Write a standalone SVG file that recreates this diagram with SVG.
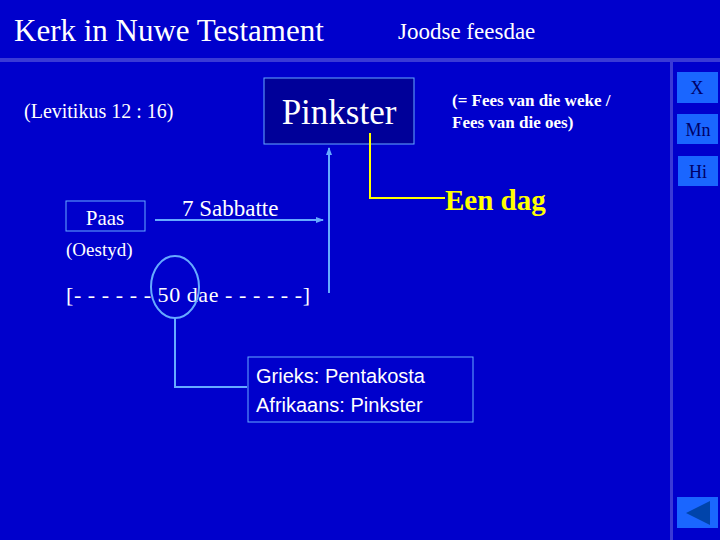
<svg xmlns="http://www.w3.org/2000/svg" width="720" height="540" viewBox="0 0 720 540">
<defs>
<style>
.s{font-family:"Liberation Serif",serif;fill:#fff}
.a{font-family:"Liberation Sans",sans-serif;fill:#fff}
.btn{fill:#1a66ff}
.lb{stroke:#66aaff;stroke-width:2;fill:none}
</style>
<marker id="ar" markerWidth="8" markerHeight="8" refX="7" refY="4" orient="auto" markerUnits="userSpaceOnUse"><path d="M0,1 L8,4 L0,7 Z" fill="#66aaff"/></marker>
</defs>
<rect width="720" height="540" fill="#0000cc"/>
<rect x="0" y="58" width="720" height="4" fill="#3a3ad6"/>
<rect x="670" y="62" width="3" height="478" fill="#3a3ad6"/>
<text class="s" x="14" y="41" font-size="31">Kerk in Nuwe Testament</text>
<text class="s" x="398" y="39" font-size="23">Joodse feesdae</text>
<text class="s" x="24" y="118" font-size="20">(Levitikus 12 : 16)</text>
<text class="s" x="452" y="106" font-size="17" font-weight="bold">(= Fees van die weke /</text>
<text class="s" x="452" y="128" font-size="17" font-weight="bold">Fees van die oes)</text>
<g id="buttons">
<rect class="btn" x="677" y="72" width="41" height="31"/><text x="697" y="94" font-size="18" text-anchor="middle" font-family="Liberation Serif,serif" fill="#000066">X</text>
<rect class="btn" x="677" y="114" width="41" height="30"/><text x="698" y="136" font-size="18" text-anchor="middle" font-family="Liberation Serif,serif" fill="#000066">Mn</text>
<rect class="btn" x="678" y="156" width="40" height="30"/><text x="698" y="178" font-size="18" text-anchor="middle" font-family="Liberation Serif,serif" fill="#000066">Hi</text>
<rect class="btn" x="677" y="497" width="41" height="31"/><path d="M686,513 L710,501 L710,525 Z" fill="#0044aa"/>
</g>
<g id="pinkster"><rect x="264" y="78" width="150" height="66" fill="#000099" stroke="#66aaff" stroke-width="1"/><text class="s" x="339" y="124" font-size="35" text-anchor="middle">Pinkster</text></g>
<g id="paas"><rect x="66" y="201" width="79" height="30" fill="none" stroke="#66aaff" stroke-width="1"/><text class="s" x="105" y="225" font-size="21" text-anchor="middle">Paas</text></g>
<text class="s" x="66" y="256" font-size="19">(Oestyd)</text>
<text class="s" x="182" y="216" font-size="23">7 Sabbatte</text>
<text class="s" x="66" y="302" font-size="22" textLength="244">[- - - - - - 50 dae - - - - - -]</text>
<text x="445" y="210" font-size="29" font-weight="bold" font-family="Liberation Serif,serif" fill="#ffff00">Een dag</text>
<g id="grieks"><rect x="248" y="357" width="225" height="65" fill="none" stroke="#66aaff" stroke-width="1"/><text class="a" x="256" y="383" font-size="20">Grieks:  Pentakosta</text><text class="a" x="256" y="412" font-size="20">Afrikaans: Pinkster</text></g>
<g id="connectors">
<line class="lb" x1="155" y1="220" x2="323" y2="220" marker-end="url(#ar)"/>
<line class="lb" x1="329" y1="293" x2="329" y2="148" marker-end="url(#ar)"/>
<path d="M370,133 V198 H445" stroke="#ffff00" stroke-width="2" fill="none"/>
<ellipse class="lb" cx="175" cy="287" rx="24" ry="31" stroke-width="3"/>
<path class="lb" d="M175,318 V387 H247"/>
</g>
</svg>
